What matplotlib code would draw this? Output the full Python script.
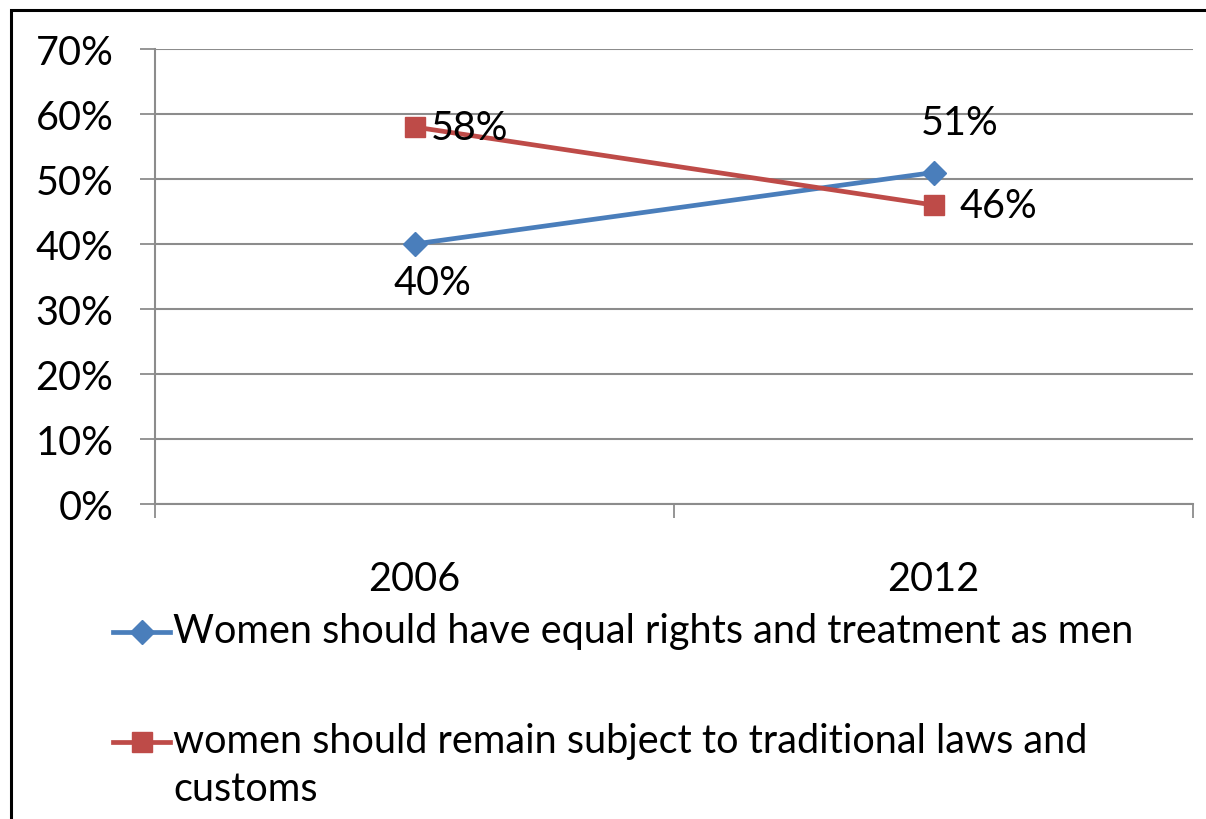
import matplotlib
matplotlib.use('Agg')
import matplotlib.pyplot as plt
from matplotlib.lines import Line2D
from matplotlib.patches import Rectangle

plt.rcParams['font.family'] = ['Lato', 'DejaVu Sans']

years = ['2006', '2012']
equal_rights = [40, 51]
traditional = [58, 46]
series_names = ['Women should have equal rights and treatment as men',
                'women should remain subject to traditional laws and\ncustoms']
yticks = [0, 10, 20, 30, 40, 50, 60, 70]

blue = '#4A7EBB'
red = '#BE4B48'
grid_c = '#8C8C8C'
fs = 28.5

fig = plt.figure(figsize=(12.06, 8.20), dpi=100)
W, H = 1206, 820
ax = fig.add_axes([155 / W, 1 - 505 / H, (1193 - 155) / W, 455 / H])

x = list(range(len(years)))
ax.plot(x, equal_rights, color=blue, lw=3.4, marker='D', ms=12, zorder=3)
ax.plot(x, traditional, color=red, lw=3.4, marker='s', ms=14, zorder=3)

ax.set_xlim(-0.5, len(years) - 0.5)
ax.set_ylim(0, 70)
ax.set_yticks(yticks)
ax.set_yticklabels([f'{v}%' for v in yticks], fontsize=fs)
ax.set_xticks(x)
ax.set_xticklabels(years, fontsize=fs)
ax.set_xticks([-0.5, 0.5, 1.5], minor=True)
ax.tick_params(axis='x', which='major', length=0, pad=40)
ax.tick_params(axis='x', which='minor', length=10, width=1.3, color=grid_c, direction='out')
ax.tick_params(axis='y', length=11, width=1.3, color=grid_c, pad=19)
ax.grid(axis='y', color=grid_c, lw=1.5)
for s in ['top', 'right']:
    ax.spines[s].set_visible(False)
for s in ['left', 'bottom']:
    ax.spines[s].set_color(grid_c)
    ax.spines[s].set_linewidth(1.5)

# data labels
ax.annotate(f'{equal_rights[0]}%', (x[0], equal_rights[0]), xytext=(13, -28),
            textcoords='offset points', ha='center', va='center', fontsize=fs)
ax.annotate(f'{equal_rights[1]}%', (x[1], equal_rights[1]), xytext=(19, 36),
            textcoords='offset points', ha='center', va='center', fontsize=fs)
ax.annotate(f'{traditional[0]}%', (x[0], traditional[0]), xytext=(12, 0),
            textcoords='offset points', ha='left', va='center', fontsize=fs)
ax.annotate(f'{traditional[1]}%', (x[1], traditional[1]), xytext=(19, 0),
            textcoords='offset points', ha='left', va='center', fontsize=fs)

# legend
leg_y = [633, 743]
for yy, c, m, ms, name in zip(leg_y, [blue, red], ['D', 's'], [12, 14], series_names):
    fig.add_artist(Line2D([113 / W, 170 / W], [1 - yy / H] * 2, color=c, lw=3.4,
                          transform=fig.transFigure))
    fig.add_artist(Line2D([141.5 / W], [1 - yy / H], color=c, marker=m, ms=ms,
                          transform=fig.transFigure))
    fig.text(173 / W, 1 - (yy - 20) / H, name, fontsize=fs, va='top', ha='left',
             linespacing=1.38)

# outer frame
fig.add_artist(Rectangle((11 / W, -0.1), 1.2, 1 - 11 / H + 0.1, fill=False,
                         ec='black', lw=2.2, transform=fig.transFigure))

fig.savefig('out.png', dpi=100)
